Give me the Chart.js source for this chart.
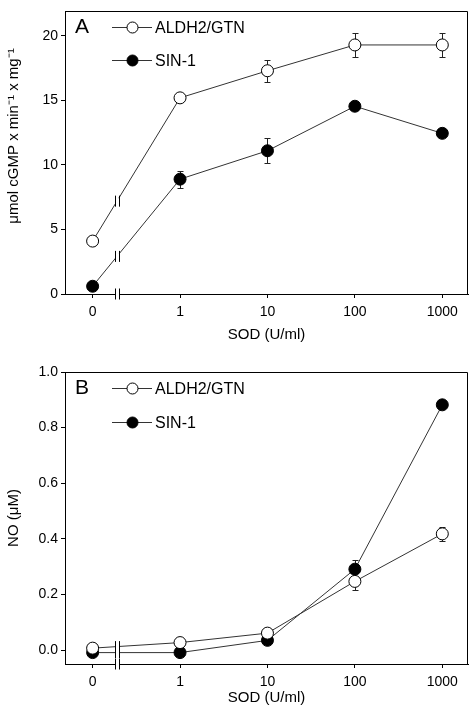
<!DOCTYPE html>
<html>
<head>
<meta charset="utf-8">
<script src="https://cdn.jsdelivr.net/npm/chart.js@4.4.1/dist/chart.umd.min.js"></script>
<style>
  body { margin: 0; background: #fff; }
  canvas { display: block; }
</style>
</head>
<body>
<canvas id="chartA" width="475" height="345"></canvas>
<canvas id="chartB" width="475" height="371"></canvas>
<script>
const doses = ['0', '1', '10', '100', '1000'];
const ticksA = [0, 5, 10, 15, 20];
const ticksB = [0, 0.2, 0.4, 0.6, 0.8, 1.0];

// panel A - cGMP formation
const gtnA = [4.1, 15.2, 17.3, 19.3, 19.3];
const gtnErrA = [0, 0.2, 0.85, 0.93, 0.95];
const sinA = [0.6, 8.9, 11.1, 14.55, 12.45];
const sinErrA = [0, 0.66, 0.96, 0.2, 0.3];

// panel B - NO release
const gtnB = [0.007, 0.027, 0.061, 0.247, 0.418];
const gtnErrB = [0.01, 0.01, 0.01, 0.032, 0.025];
const sinB = [-0.009, -0.009, 0.035, 0.291, 0.882];
const sinErrB = [0.005, 0.005, 0.005, 0.033, 0.01];

const FONT = '"Liberation Sans", Arial, Helvetica, sans-serif';
const breakAt = 0.28; // x position (in dose index units) of the axis break

function points(values) {
  return values.map((v, i) => ({ x: i, y: v }));
}

function series(label, values, errors, fillColor) {
  return {
    label: label,
    data: points(values),
    errors: errors,
    borderColor: '#333',
    borderWidth: 1,
    pointRadius: 6,
    pointHoverRadius: 6,
    pointBackgroundColor: fillColor,
    pointBorderColor: '#000',
    pointBorderWidth: 1,
    fill: false,
    tension: 0
  };
}

// error bars under the markers
const errorBars = {
  id: 'errorBars',
  beforeDatasetsDraw(chart) {
    const ctx = chart.ctx;
    const ys = chart.scales.y;
    ctx.save();
    ctx.strokeStyle = '#222';
    ctx.lineWidth = 1;
    chart.data.datasets.forEach((ds, di) => {
      const meta = chart.getDatasetMeta(di);
      meta.data.forEach((pt, i) => {
        const err = ds.errors[i];
        if (!err) return;
        const v = ds.data[i].y;
        const top = Math.round(ys.getPixelForValue(v + err)) + 0.5;
        const bot = Math.round(ys.getPixelForValue(v - err)) + 0.5;
        const x = Math.round(pt.x) + 0.5;
        ctx.beginPath();
        ctx.moveTo(x, top); ctx.lineTo(x, bot);
        ctx.moveTo(x - 3, top); ctx.lineTo(x + 3, top);
        ctx.moveTo(x - 3, bot); ctx.lineTo(x + 3, bot);
        ctx.stroke();
      });
    });
    ctx.restore();
  }
};

function drawBreak(ctx, x, y) {
  ctx.fillStyle = '#fff';
  ctx.fillRect(x - 1, y - 3, 3, 6);
  ctx.beginPath();
  ctx.moveTo(x - 1.5, y - 5.5); ctx.lineTo(x - 1.5, y + 5.5);
  ctx.moveTo(x + 2.5, y - 5.5); ctx.lineTo(x + 2.5, y + 5.5);
  ctx.stroke();
}

// "||" break marks on the lines and on the x axis
const axisBreak = {
  id: 'axisBreak',
  afterDatasetsDraw(chart) {
    const ctx = chart.ctx;
    const xb = Math.round(chart.scales.x.getPixelForValue(breakAt));
    ctx.save();
    ctx.strokeStyle = '#000';
    ctx.lineWidth = 1;
    chart.data.datasets.forEach((ds, di) => {
      const meta = chart.getDatasetMeta(di);
      const p0 = meta.data[0], p1 = meta.data[1];
      const y = p0.y + (p1.y - p0.y) * (xb - p0.x) / (p1.x - p0.x);
      drawBreak(ctx, xb, y);
    });
    drawBreak(ctx, xb, chart.chartArea.bottom);
    ctx.restore();
  }
};

// top/right frame, panel letter and in-plot legend
const panelDecor = {
  id: 'panelDecor',
  afterDraw(chart, args, opts) {
    const ctx = chart.ctx;
    const area = chart.chartArea;
    ctx.save();
    ctx.strokeStyle = '#000';
    ctx.lineWidth = 1;
    ctx.beginPath();
    ctx.moveTo(Math.round(area.left), Math.round(area.top) + 0.5);
    ctx.lineTo(Math.round(area.right) - 0.5, Math.round(area.top) + 0.5);
    ctx.lineTo(Math.round(area.right) - 0.5, Math.round(area.bottom));
    ctx.stroke();

    ctx.fillStyle = '#000';
    ctx.textBaseline = 'middle';
    ctx.font = '21px ' + FONT;
    ctx.fillText(opts.letter, area.left + 10, area.top + 16);

    ctx.font = '16px ' + FONT;
    chart.data.datasets.forEach((ds, i) => {
      const y = Math.round(area.top + opts.rows[i]) + 0.5;
      ctx.strokeStyle = '#333';
      ctx.beginPath();
      ctx.moveTo(area.left + 47, y);
      ctx.lineTo(area.left + 87, y);
      ctx.stroke();
      ctx.beginPath();
      ctx.arc(area.left + 67.5, y, 5.5, 0, Math.PI * 2);
      ctx.fillStyle = ds.pointBackgroundColor;
      ctx.fill();
      ctx.strokeStyle = '#000';
      ctx.stroke();
      ctx.fillStyle = '#000';
      ctx.fillText(ds.label, area.left + 90, y + 1);
    });
    ctx.restore();
  }
};

function makeConfig(opts) {
  return {
    type: 'line',
    data: { datasets: opts.datasets },
    options: {
      responsive: false,
      animation: false,
      devicePixelRatio: 1,
      layout: { padding: { top: opts.padTop, right: 2, left: 0, bottom: 0 } },
      scales: {
        x: {
          type: 'linear',
          min: -0.316,
          max: 4.294,
          afterBuildTicks: s => { s.ticks = doses.map((d, i) => ({ value: i })); },
          afterFit: s => { s.height = opts.xHeight; },
          ticks: {
            callback: v => doses[v],
            color: '#000',
            font: { family: FONT, size: 14 },
            padding: 6,
            autoSkip: false,
            maxRotation: 0
          },
          grid: { drawOnChartArea: false, drawTicks: true, tickLength: 4, color: '#000' },
          border: { display: true, color: '#000', width: 1 },
          title: {
            display: true,
            text: 'SOD (U/ml)',
            color: '#000',
            font: { family: FONT, size: 15 },
            padding: { top: 0, bottom: opts.xTitlePad }
          }
        },
        y: {
          min: opts.yMin,
          max: opts.yMax,
          afterBuildTicks: s => { s.ticks = opts.yTicks.map(v => ({ value: v })); },
          afterFit: s => { s.width = 65; },
          ticks: {
            callback: opts.yFormat,
            color: '#000',
            font: { family: FONT, size: 14 },
            padding: 3
          },
          grid: { drawOnChartArea: false, drawTicks: true, tickLength: 4, color: '#000' },
          border: { display: true, color: '#000', width: 1 },
          title: {
            display: true,
            text: opts.yTitle,
            color: '#000',
            font: { family: FONT, size: 15 },
            padding: { top: 5, bottom: 0 }
          }
        }
      },
      plugins: {
        legend: { display: false },
        tooltip: { enabled: false },
        panelDecor: { letter: opts.letter, rows: opts.rows }
      }
    },
    plugins: [errorBars, axisBreak, panelDecor]
  };
}

const chartA = new Chart(document.getElementById('chartA'), makeConfig({
  letter: 'A',
  datasets: [
    series('ALDH2/GTN', gtnA, gtnErrA, '#fff'),
    series('SIN-1', sinA, sinErrA, '#000')
  ],
  yMin: 0,
  yMax: 21.9,
  yTicks: ticksA,
  yFormat: v => String(v),
  // leading spaces push the title up, as in the original figure
  yTitle: '\u00A0'.repeat(8) + 'μmol cGMP x min⁻¹ x mg⁻¹',
  padTop: 2,
  xHeight: 51,
  xTitlePad: 1,
  rows: [16, 49]
}));

const chartB = new Chart(document.getElementById('chartB'), makeConfig({
  letter: 'B',
  datasets: [
    series('ALDH2/GTN', gtnB, gtnErrB, '#fff'),
    series('SIN-1', sinB, sinErrB, '#000')
  ],
  yMin: -0.05,
  yMax: 1.0,
  yTicks: ticksB,
  yFormat: v => v.toFixed(1),
  yTitle: 'NO (μM)',
  padTop: 27,
  xHeight: 52,
  xTitlePad: 9,
  rows: [16, 50]
}));
</script>
</body>
</html>
